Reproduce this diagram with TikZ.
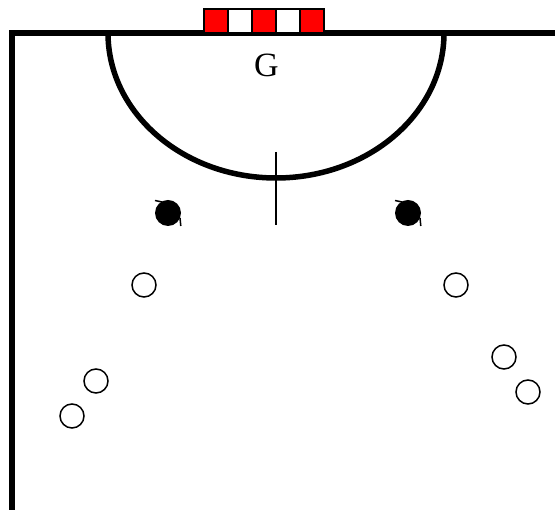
\documentclass[tikz,border=0pt]{standalone}
\usepackage{fontspec}
\setmainfont{Liberation Serif}
\usetikzlibrary{positioning}

\begin{document}
\begin{tikzpicture}[
    x=1pt, y=1pt,
    wall/.style = {line width=6pt, line join=miter},
    goal cell/.style = {
        rectangle,
        draw=black,
        line width=2pt,
        minimum width=24pt,
        minimum height=24pt,
        inner sep=0pt,
        outer sep=0pt
    },
    open player/.style = {circle, draw=black, line width=1.5pt, fill=white, minimum size=24pt, inner sep=0pt},
    dark player/.style = {circle, fill=black, minimum size=26pt, inner sep=0pt},
    turn tick/.style = {line width=1.5pt}
]
\useasboundingbox (0,0) rectangle (555,510);

% walls and goal area
\coordinate (corner) at (12,477);
\coordinate (wall right) at (555,477);
\coordinate (wall bottom) at (12,0);
\draw[wall] (wall right) -- (corner) -- (wall bottom);
\draw[line width=5.5pt] (108,477) arc[start angle=180, end angle=360, x radius=168, y radius=145];

\coordinate (mark top) at (276,358);
\coordinate (mark bottom) at (276,285);
\draw[line width=1.5pt] (mark top) -- (mark bottom);

% goal
\node [goal cell, fill=red] (post1) at (216,489) {};
\node [goal cell, fill=white, right=0pt of post1] (post2) {};
\node [goal cell, fill=red, right=0pt of post2] (post3) {};
\node [goal cell, fill=white, right=0pt of post3] (post4) {};
\node [goal cell, fill=red, right=0pt of post4] (post5) {};

\node [font=\fontsize{34}{34}\selectfont, inner sep=0pt] (keeper) at (266.5,445) {G};

% players
\node [dark player] (dark1) at (168,297) {};
\node [dark player] (dark2) at (408,297) {};
\draw[turn tick] ([shift={(-13,12.5)}]dark1.center) -- ([shift={(-6,11)}]dark1.center);
\draw[turn tick] ([shift={(12,-5)}]dark1.center) -- ([shift={(12.8,-13)}]dark1.center);
\draw[turn tick] ([shift={(-13,12.5)}]dark2.center) -- ([shift={(-6,11)}]dark2.center);
\draw[turn tick] ([shift={(12,-5)}]dark2.center) -- ([shift={(12.8,-13)}]dark2.center);

\node [open player] (open1) at (144,225) {};
\node [open player] (open2) at (96,129) {};
\node [open player] (open3) at (72,94) {};
\node [open player] (open4) at (456,225) {};
\node [open player] (open5) at (504,153) {};
\node [open player] (open6) at (528,118) {};

\end{tikzpicture}
\end{document}
